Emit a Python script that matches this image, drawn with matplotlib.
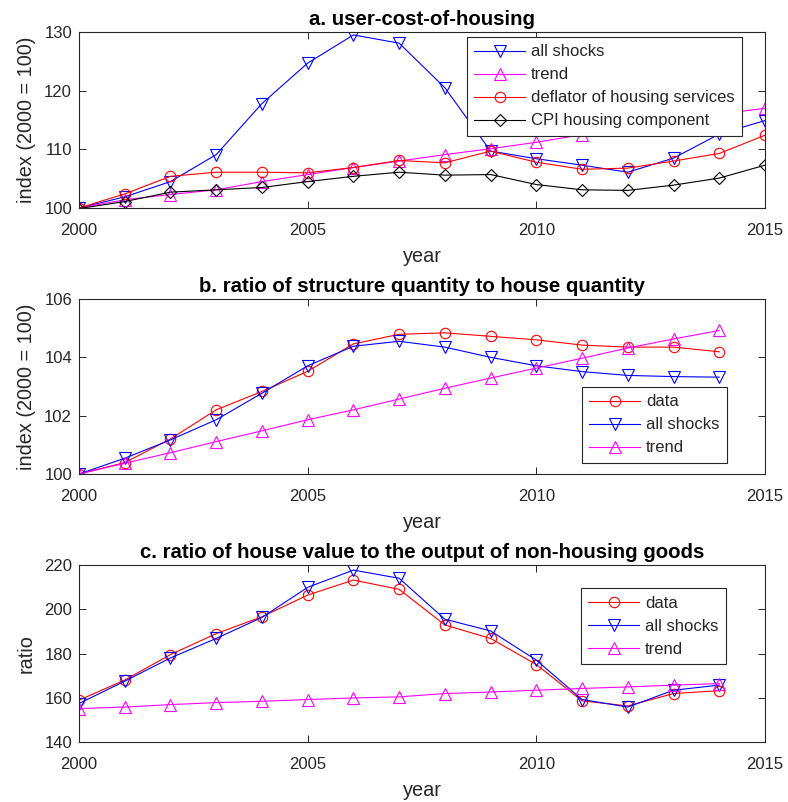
import matplotlib
matplotlib.use("Agg")
import matplotlib.pyplot as plt

plt.rcParams['font.family'] = ['Liberation Sans', 'DejaVu Sans']

# ---------------- data ----------------
years_a = list(range(2000, 2016))
a_all_shocks = [100.0, 101.9, 104.5, 109.1, 117.8, 124.7, 129.5, 128.1, 120.5, 109.7,
                108.4, 107.3, 106.1, 108.5, 112.6, 114.9]
a_trend = [100.0, 101.4, 102.3, 103.1, 104.5, 105.7, 106.9, 108.0, 109.1, 110.1,
           111.2, 112.5, 113.7, 114.8, 116.0, 117.0]
a_deflator = [100.0, 102.4, 105.4, 106.1, 106.1, 106.0, 106.9, 108.1, 107.7, 109.7,
              107.8, 106.6, 106.8, 108.0, 109.3, 112.4]
a_cpi = [99.9, 101.1, 102.7, 103.1, 103.5, 104.5, 105.4, 106.1, 105.6, 105.7,
         104.0, 103.1, 103.0, 103.9, 105.1, 107.3]

years_b = list(range(2000, 2015))
b_data = [100.0, 100.39, 101.2, 102.2, 102.83, 103.52, 104.46, 104.79, 104.84, 104.72,
          104.6, 104.42, 104.35, 104.35, 104.19]
b_all_shocks = [100.0, 100.54, 101.17, 101.86, 102.77, 103.71, 104.38, 104.55, 104.35, 104.0,
                103.71, 103.51, 103.38, 103.34, 103.32]
b_trend = [100.0, 100.37, 100.73, 101.11, 101.48, 101.86, 102.2, 102.57, 102.94, 103.29,
           103.63, 103.97, 104.32, 104.63, 104.92]

years_c = list(range(2000, 2015))
c_data = [158.9, 168.0, 179.5, 189.0, 196.6, 206.4, 213.2, 209.0, 192.9, 186.8,
          175.0, 158.6, 156.3, 161.9, 163.2]
c_all_shocks = [157.4, 167.5, 178.0, 186.8, 196.3, 209.9, 217.7, 214.0, 195.5, 190.2,
                177.0, 159.2, 155.8, 163.4, 165.7]
c_trend = [155.1, 155.8, 156.9, 157.8, 158.4, 159.2, 159.9, 160.4, 161.9, 162.6,
           163.4, 164.2, 164.9, 165.7, 166.4]

titles = ["a. user-cost-of-housing",
          "b. ratio of structure quantity to house quantity",
          "c. ratio of house value to the output of non-housing goods"]
ylabels = ["index (2000 = 100)", "index (2000 = 100)", "ratio"]
xticks = [2000, 2005, 2010, 2015]

# ---------------- style ----------------
TXT = '#262626'
FS = 12
FL = 14.3
FT = 14.7
lw = 0.8
MS = {'o': 7.5, 'v': 8.7, '^': 8.7, 'D': 6.3}

fig = plt.figure(figsize=(7.88, 8.02), dpi=100)
L, W = 79 / 788, 686 / 788
axa = fig.add_axes([L, 1 - 208 / 802, W, 176 / 802])
axb = fig.add_axes([L, 1 - 474 / 802, W, 175 / 802])
axc = fig.add_axes([L, 1 - 742 / 802, W, 177 / 802])


def style(ax, title, ylabel, ylim, yticks):
    ax.set_xlim(2000, 2015)
    ax.set_ylim(*ylim)
    ax.set_xticks(xticks)
    ax.set_yticks(yticks)
    ax.tick_params(direction='in', top=True, right=True, length=5, width=0.7,
                   labelsize=FS, colors=TXT)
    ax.tick_params(axis='x', pad=11)
    ax.tick_params(axis='y', pad=5)
    for s in ax.spines.values():
        s.set_linewidth(0.8)
        s.set_color(TXT)
    ax.set_title(title, fontsize=FT, fontweight='bold', color='black', pad=5)
    ax.set_xlabel('year', fontsize=FL, color=TXT, labelpad=6.5)
    ax.set_ylabel(ylabel, fontsize=FL, color=TXT, labelpad=6)


def mk(ax, x, y, color, marker, label):
    ax.plot(x, y, color=color, marker=marker, markersize=MS[marker], markerfacecolor='none',
            markeredgecolor=color, markeredgewidth=lw, linewidth=lw, label=label)


def legend(ax, loc, anchor):
    lg = ax.legend(loc=loc, bbox_to_anchor=anchor, borderaxespad=0, fontsize=FS,
                   frameon=True, fancybox=False, framealpha=1, edgecolor=TXT,
                   handlelength=3.05, labelspacing=0.48, borderpad=0.45, handletextpad=0.35)
    lg.get_frame().set_linewidth(0.8)
    for t in lg.get_texts():
        t.set_color(TXT)


# panel a
mk(axa, years_a, a_all_shocks, 'blue', 'v', 'all shocks')
mk(axa, years_a, a_trend, 'magenta', '^', 'trend')
mk(axa, years_a, a_deflator, 'red', 'o', 'deflator of housing services')
mk(axa, years_a, a_cpi, 'black', 'D', 'CPI housing component')
style(axa, titles[0], ylabels[0], (100, 130), [100, 110, 120, 130])
legend(axa, 'upper right', (0.9665, 0.9716))

# panel b
mk(axb, years_b, b_data, 'red', 'o', 'data')
mk(axb, years_b, b_all_shocks, 'blue', 'v', 'all shocks')
mk(axb, years_b, b_trend, 'magenta', '^', 'trend')
style(axb, titles[1], ylabels[1], (100, 106), [100, 102, 104, 106])
legend(axb, 'lower right', (0.9446, 0.063))

# panel c
mk(axc, years_c, c_data, 'red', 'o', 'data')
mk(axc, years_c, c_all_shocks, 'blue', 'v', 'all shocks')
mk(axc, years_c, c_trend, 'magenta', '^', 'trend')
style(axc, titles[2], ylabels[2], (140, 220), [140, 160, 180, 200, 220])
legend(axc, 'upper right', (0.943, 0.870))

fig.savefig('out.png', dpi=100)
